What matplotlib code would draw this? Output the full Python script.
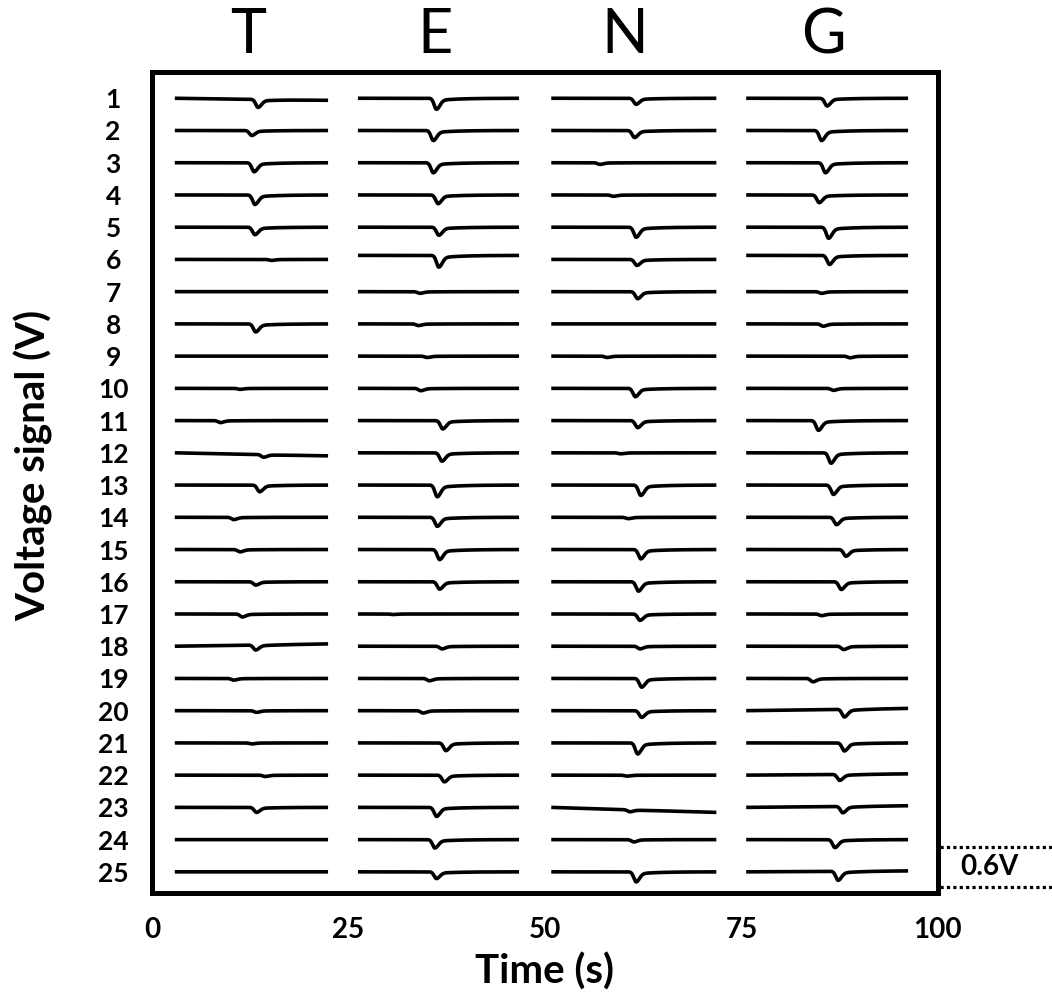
import numpy as np
import matplotlib
matplotlib.use("Agg")
import matplotlib.pyplot as plt

plt.rcParams['font.family'] = ['Lato', 'DejaVu Sans']

# ---------------- data ----------------
rows = list(range(1, 26))
letters = ['T', 'E', 'N', 'G']
x_ticks = [0, 25, 50, 75, 100]

# time window (s) of each letter's traces
seg_start = [2.9, 26.2, 50.8, 75.6]
seg_end = [22.4, 46.7, 71.8, 96.2]

# time (s) of the signal minimum, per row (1..25)
dip_time_T = [13.5, 12.7, 13.0, 13.1, 13.1, 15.2, 13.0, 13.2, 13.0, 11.2, 8.7, 14.2, 13.7,
              10.4, 11.2, 13.2, 11.5, 13.2, 10.4, 13.3, 12.7, 14.4, 13.3, 13.0, 13.0]
dip_time_E = [36.2, 35.8, 35.8, 36.4, 36.5, 36.5, 34.1, 33.9, 35.0, 34.2, 37.0, 36.9, 36.3,
              36.3, 36.6, 36.6, 30.7, 36.9, 35.3, 34.5, 37.4, 37.2, 36.2, 36.0, 36.2]
dip_time_N = [61.6, 61.4, 57.0, 58.7, 61.6, 61.7, 61.8, 60.0, 57.9, 61.5, 61.8, 59.6, 62.2,
              60.6, 62.2, 61.9, 62.1, 62.1, 62.3, 62.3, 61.8, 60.4, 60.8, 61.3, 61.6]
dip_time_G = [85.9, 85.2, 85.7, 84.9, 86.1, 86.2, 85.2, 85.4, 88.8, 86.7, 84.8, 86.4, 86.7,
              87.1, 88.3, 87.7, 85.2, 88.0, 84.1, 88.1, 88.1, 87.5, 87.9, 86.9, 87.3]

# depth of the dip (V), per row
dip_depth_T = [0.120, 0.075, 0.135, 0.142, 0.112, 0.015, 0.000, 0.120, 0.000, 0.015, 0.030, 0.040, 0.100,
               0.035, 0.035, 0.050, 0.045, 0.075, 0.025, 0.025, 0.015, 0.020, 0.075, 0.000, 0.000]
dip_depth_E = [0.165, 0.150, 0.150, 0.130, 0.120, 0.175, 0.025, 0.025, 0.020, 0.035, 0.125, 0.125, 0.175,
               0.135, 0.150, 0.110, 0.008, 0.040, 0.035, 0.035, 0.115, 0.100, 0.135, 0.125, 0.100]
dip_depth_N = [0.090, 0.105, 0.025, 0.020, 0.150, 0.090, 0.105, 0.000, 0.020, 0.125, 0.105, 0.015, 0.155,
               0.020, 0.140, 0.140, 0.095, 0.040, 0.130, 0.100, 0.165, 0.015, 0.030, 0.035, 0.150]
dip_depth_G = [0.115, 0.150, 0.150, 0.115, 0.165, 0.135, 0.025, 0.035, 0.025, 0.030, 0.145, 0.155, 0.140,
               0.110, 0.100, 0.115, 0.025, 0.050, 0.050, 0.115, 0.120, 0.090, 0.095, 0.120, 0.135]

# baseline drift across each trace (V, right end minus left end)
drift_T = [-0.03, 0, 0, 0, 0, 0, 0, 0, 0, 0, 0, -0.045, 0, 0, 0, 0, 0, 0.035, 0, 0, 0, 0, 0, 0, 0]
drift_E = [0] * 25
drift_N = [0] * 22 + [-0.075, 0, 0]
drift_G = [0] * 19 + [0.035, 0, 0.02, 0.025, 0, 0.015]

# baseline shift of individual traces (V)
shift_E = [0] * 5 + [0.06] + [0] * 19
shift_G = [0] * 5 + [0.06] + [0] * 19

dip_times = [dip_time_T, dip_time_E, dip_time_N, dip_time_G]
dip_depths = [dip_depth_T, dip_depth_E, dip_depth_N, dip_depth_G]
drifts = [drift_T, drift_E, drift_N, drift_G]
shifts = [[0] * 25, shift_E, [0] * 25, shift_G]

ROW_STEP = 0.48      # V between stacked rows
SCALE_BAR = 0.6      # V
TITLE_X = [12.2, 36.0, 60.2, 85.4]


def pulse(t, tm):
    """normalised shape of one touch pulse: fast fall, rise with slow tail"""
    d = t - tm
    left = np.exp(-(d / 0.42) ** 2)
    right = 0.78 * np.exp(-(d / 0.6) ** 2) + 0.22 * np.exp(-np.clip(d, 0, None) / 2.5)
    return np.where(d < 0, left, right)


# ---------------- figure ----------------
fig = plt.figure(figsize=(10.52, 10.01), dpi=100)
ax = fig.add_axes([0.1445, 0.1079, 0.7471, 0.8201])

for j, let in enumerate(letters):
    t = np.linspace(seg_start[j], seg_end[j], 1500)
    for i, r in enumerate(rows):
        base = (25 - r) * ROW_STEP + shifts[j][i]
        frac = (t - t[0]) / (t[-1] - t[0])
        y = base + drifts[j][i] * frac - dip_depths[j][i] * pulse(t, dip_times[j][i])
        ax.plot(t, y, color='black', lw=2.6, solid_capstyle='butt')
    ax.text(TITLE_X[j], 1.023, let, transform=ax.get_xaxis_transform(),
            ha='center', va='baseline', fontsize=44, fontweight='normal')

ax.set_xlim(0, 100)
ax.set_ylim(-0.315, 11.91)

ax.set_xticks(x_ticks)
ax.set_xticklabels([str(v) for v in x_ticks], fontsize=20, fontweight='bold')
ax.set_yticks([(25 - r) * ROW_STEP for r in rows])
ax.set_yticklabels([str(r) for r in rows], fontsize=19, fontweight='bold')
for lab in ax.get_yticklabels():
    lab.set_horizontalalignment('center')
ax.tick_params(axis='both', length=0)
ax.tick_params(axis='y', pad=28)
ax.tick_params(axis='x', pad=17)

for s in ax.spines.values():
    s.set_linewidth(3.6)

ax.set_xlabel('Time (s)', fontsize=29, fontweight='bold')
ax.xaxis.set_label_coords(0.5, -0.096)
ax.xaxis.label.set_va('center')
ax.set_ylabel('Voltage signal (V)', fontsize=29, fontweight='bold')
ax.yaxis.set_label_coords(-0.151, 0.521)
ax.yaxis.label.set_va('center')

# 0.6 V scale bar
y_lo = -0.223
for yy in (y_lo, y_lo + SCALE_BAR):
    ax.plot([100.2, 115], [yy, yy], color='black', lw=2.3, ls=(0, (1, 1)), clip_on=False)
ax.text(106.6, y_lo + SCALE_BAR / 2, '0.6V', ha='center', va='center',
        fontsize=20, fontweight='bold', clip_on=False)

fig.savefig('out.png', dpi=100)
